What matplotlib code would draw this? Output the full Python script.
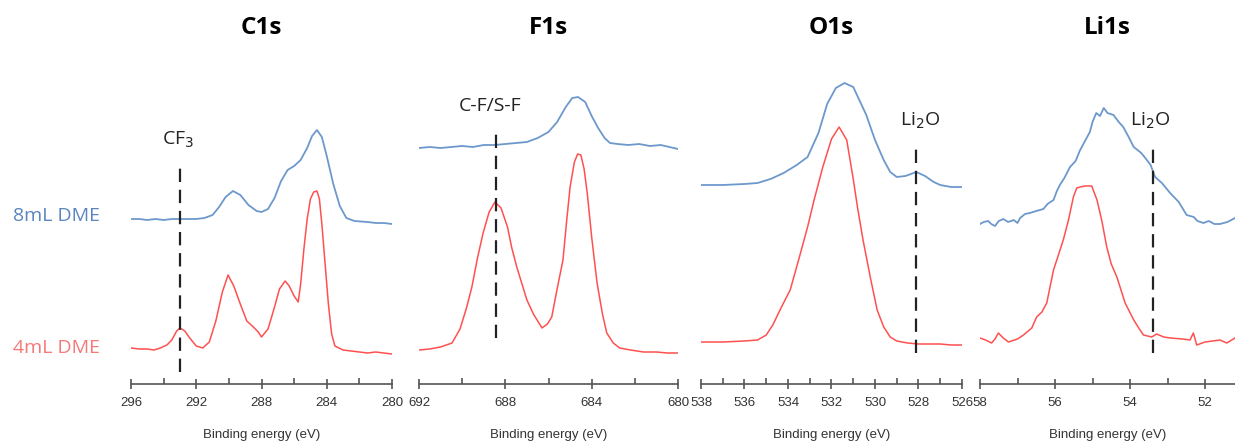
import matplotlib.pyplot as plt
import numpy as np

# XPS spectra; intensity in arbitrary units (0 = axis line)
titles = ["C1s", "F1s", "O1s", "Li1s"]
xlims = [(296, 280), (692, 680), (538, 526), (58, 51.2)]
xticks = [[296, 292, 288, 284, 280], [692, 688, 684, 680],
          [538, 536, 534, 532, 530, 528, 526], [58, 56, 54, 52]]
minors = [[294, 290, 286, 282], [690, 686, 682],
          [537, 535, 533, 531, 529, 527], [57, 55, 53]]

c1s_e8 = [296, 295.5, 295, 294.5, 294, 293.5, 293, 292.5, 292, 291.5, 291, 290.6, 290.2, 289.75,
          289.3, 288.8, 288.3, 288, 287.6, 287.2, 286.8, 286.4, 286.0, 285.6, 285.2, 284.9,
          284.6, 284.3, 284.0, 283.6, 283.2, 282.8, 282.3, 281.5, 281, 280.5, 280]
c1s_i8 = [165, 165, 164, 165, 164, 165, 165, 165, 165, 166, 169, 177, 187, 193,
          189, 179, 173, 172, 175, 186, 203, 214, 218, 224, 236, 248,
          254, 247, 228, 200, 178, 166, 163, 162, 161, 161, 160]
c1s_e4 = [296, 295.5, 295, 294.6, 294.2, 293.8, 293.5, 293.2, 293.0, 292.7, 292.4, 292.0, 291.6,
          291.2, 290.8, 290.4, 290.05, 289.7, 289.3, 288.9, 288.5, 288.2, 288.0, 287.6, 287.2,
          286.9, 286.55, 286.3, 286.0, 285.75, 285.6, 285.4, 285.2, 285.0, 284.8, 284.6,
          284.45, 284.3, 284.1, 283.9, 283.7, 283.5, 283.0, 282.5, 282, 281.5, 281, 280.5, 280]
c1s_i4 = [36, 35, 35, 34, 36, 39, 44, 53, 56, 53, 46, 38, 36,
          42, 63, 92, 109, 98, 80, 63, 57, 52, 47, 55, 77,
          95, 103, 98, 88, 82, 100, 135, 165, 185, 192, 193,
          185, 160, 120, 80, 50, 38, 34, 33, 32, 31, 32, 31, 30]

f1s_e8 = [692, 691.5, 691, 690.5, 690, 689.5, 689, 688.5, 688, 687.5, 687, 686.5, 686.0,
          685.6, 685.2, 684.9, 684.63, 684.3, 684.0, 683.7, 683.4, 683.15, 682.8, 682.3,
          681.8, 681.3, 680.8, 680.4, 680]
f1s_i8 = [236, 237, 236, 237, 238, 237, 239, 239, 240, 241, 242, 246, 252,
          262, 277, 286, 287, 282, 268, 256, 246, 241, 240, 239,
          240, 238, 239, 237, 235]
f1s_e4 = [692, 691.5, 691, 690.47, 690.1, 689.8, 689.55, 689.3, 689.03, 688.75, 688.48, 688.2,
          687.9, 687.7, 687.47, 687.2, 687.0, 686.7, 686.3, 686.05, 685.85, 685.6, 685.33,
          685.15, 685.0, 684.8, 684.65, 684.5, 684.35, 684.2, 684.0, 683.75, 683.5, 683.3,
          683.0, 682.7, 682.2, 681.6, 681, 680.5, 680]
f1s_i4 = [34, 35, 37, 41, 55, 76, 97, 125, 151, 172, 182, 176,
          157, 136, 117, 98, 84, 70, 56, 60, 67, 95, 124,
          165, 197, 222, 230, 229, 215, 190, 147, 101, 70, 51,
          41, 36, 34, 32, 32, 31, 31]

o1s_e8 = [538, 537, 536, 535.4, 534.8, 534.2, 533.6, 533.1, 532.6, 532.2, 531.8, 531.4,
          531.0, 530.7, 530.4, 530.0, 529.6, 529.3, 529.0, 528.6, 528.1, 527.7, 527.3,
          527.0, 526.5, 526]
o1s_i8 = [199, 199, 200, 201, 205, 211, 219, 227, 251, 280, 296, 301,
          297, 283, 269, 244, 224, 212, 207, 208, 212, 208, 202,
          199, 197, 197]
o1s_e4 = [538, 537, 536, 535.4, 535.0, 534.7, 534.3, 533.9, 533.5, 533.1, 532.8, 532.4,
          532.0, 531.65, 531.3, 531.0, 530.8, 530.55, 530.2, 529.9, 529.6, 529.3, 529.0,
          528.5, 528, 527.5, 527, 526.5, 526]
o1s_i4 = [42, 42, 43, 44, 49, 59, 77, 94, 125, 157, 184, 217,
          245, 257, 244, 205, 176, 144, 105, 74, 57, 47, 43,
          41, 40, 40, 40, 39, 39]

li1s_e8 = [58, 57.9, 57.78, 57.7, 57.6, 57.5, 57.38, 57.25, 57.1, 57.0, 56.93, 56.8, 56.67,
           56.5, 56.31, 56.2, 56.04, 55.95, 55.87, 55.75, 55.6, 55.45, 55.33, 55.2, 55.07,
           55.0, 54.9, 54.8, 54.7, 54.6, 54.44, 54.3, 54.18, 54.05, 53.9, 53.7, 53.55, 53.45,
           53.33, 53.15, 52.93, 52.7, 52.49, 52.3, 52.2, 52.04, 51.9, 51.75, 51.6, 51.4, 51.2]
li1s_i8 = [160, 162, 163, 160, 158, 163, 165, 162, 164, 161, 166, 170, 171,
           173, 175, 180, 184, 193, 199, 206, 217, 223, 234, 243, 252,
           262, 271, 268, 276, 271, 269, 262, 257, 248, 237, 231, 224, 219,
           207, 201, 191, 182, 169, 167, 163, 161, 163, 160, 160, 162, 166]
li1s_e4 = [58, 57.85, 57.69, 57.6, 57.51, 57.38, 57.24, 57.0, 56.84, 56.62, 56.49, 56.35,
           56.22, 56.04, 55.9, 55.78, 55.64, 55.51, 55.42, 55.33, 55.2, 55.02, 54.88, 54.75,
           54.62, 54.5, 54.35, 54.13, 53.9, 53.75, 53.64, 53.42, 53.29, 53.1, 52.93, 52.6,
           52.4, 52.31, 52.22, 52.0, 51.8, 51.6, 51.42, 51.2]
li1s_i4 = [46, 44, 41, 45, 51, 46, 42, 45, 49, 56, 67, 72,
           81, 114, 130, 144, 164, 187, 196, 197, 198, 198, 184, 163,
           137, 120, 107, 81, 64, 55, 49, 47, 50, 47, 46, 45,
           44, 51, 39, 42, 43, 44, 41, 46]

blue_e = [c1s_e8, f1s_e8, o1s_e8, li1s_e8]
blue_i = [c1s_i8, f1s_i8, o1s_i8, li1s_i8]
red_e = [c1s_e4, f1s_e4, o1s_e4, li1s_e4]
red_i = [c1s_i4, f1s_i4, o1s_i4, li1s_i4]

marker_pos = [293.0, 688.45, 528.1, 53.38]
marker_span = [(12, 222), (46, 257), (31, 241), (31, 241)]
marker_text = ["CF$_3$", "C-F/S-F", "Li$_2$O", "Li$_2$O"]
marker_text_x = [293.1, 688.7, 527.9, 53.45]

blue = "#6d98cb"
red = "#ff5050"
narrow = ["Liberation Sans", "DejaVu Sans"]

fig = plt.figure(figsize=(12.35, 4.42), dpi=100)
boxes = [(131, 392), (419, 678), (701, 962), (980, 1235)]
W, H = 1235, 442
for k in range(4):
    x0, x1 = boxes[k]
    ax = fig.add_axes([x0 / W, (H - 384) / H, (x1 - x0) / W, 320 / H])
    ax.plot(blue_e[k], blue_i[k], color=blue, lw=1.3)
    ax.plot(red_e[k], red_i[k], color=red, lw=1.1)
    ax.plot([marker_pos[k]] * 2, marker_span[k], color="#222222", lw=1.6,
            dashes=(6, 3.5))
    ax.text(marker_text_x[k], marker_span[k][1] + 12, marker_text[k], ha="center",
            va="bottom", fontsize=14, family="Open Sans", color="#222222")
    ax.set_xlim(*xlims[k])
    ax.set_ylim(0, 320)
    ax.set_xticks(xticks[k])
    ax.set_xticks(minors[k], minor=True)
    ax.set_yticks([])
    for s in ["top", "left", "right"]:
        ax.spines[s].set_visible(False)
    ax.spines["bottom"].set_color("#555555")
    ax.spines["bottom"].set_linewidth(1.2)
    ax.tick_params(axis="x", which="major", direction="inout", length=7, width=1.2,
                   color="#555555", labelsize=9.5, labelcolor="#333333", pad=6)
    ax.tick_params(axis="x", which="minor", direction="in", length=4, width=1.2,
                   color="#555555")
    for lab in ax.get_xticklabels():
        lab.set_family(narrow)
    ax.set_xlabel("Binding energy (eV)", fontsize=9.5, color="#333333", labelpad=14,
                  family=narrow)
    ax.patch.set_alpha(0)
    fig.text((x0 + x1) / 2 / W, 1 - 28 / H, titles[k], ha="center", va="center",
             fontsize=17.5, fontweight="bold", family="Open Sans")

fig.text(100 / W, 1 - 216 / H, "8mL DME", ha="right", va="center", fontsize=14,
         color="#5a86bd", family="Open Sans")
fig.text(100 / W, 1 - 348 / H, "4mL DME", ha="right", va="center", fontsize=14,
         color="#f47a7a", family="Open Sans")

fig.savefig("out.png", dpi=100)
